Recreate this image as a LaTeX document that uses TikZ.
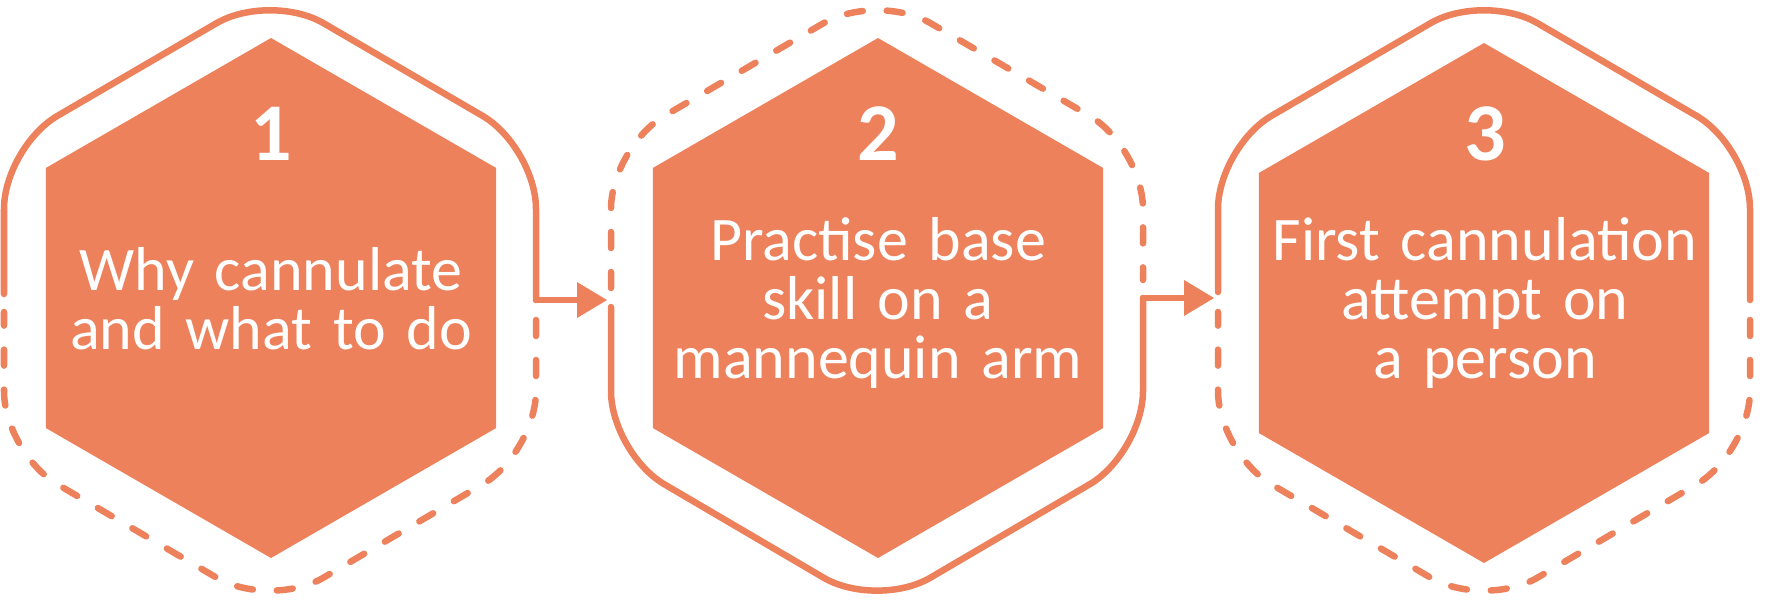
\documentclass[tikz,border=0pt]{standalone}
\usepackage{fontspec}
\setmainfont{Carlito}
\usetikzlibrary{arrows.meta}

\definecolor{hexorange}{RGB}{237,129,92}

\tikzset{
  hexfill/.style={fill=hexorange},
  rim/.style={draw=hexorange, line width=6.5pt, line cap=round, line join=round, rounded corners=62pt},
  rimdash/.style={rim, dash pattern=on 16pt off 24pt},
  link/.style={draw=hexorange, line width=6.5pt, line cap=round,
    -{Triangle[length=30pt, width=36pt, line width=0pt]}},
  stepnum/.style={text=white, font=\fontsize{82}{90}\selectfont\bfseries, anchor=base, inner sep=0pt},
  steptext/.style={text=white, font=\fontsize{62}{59.3}\selectfont,
    text width=460pt, align=center, anchor=base, inner sep=0pt}
}

\begin{document}
\begin{tikzpicture}[x=1pt, y=-1pt]
        \useasboundingbox (0,0) rectangle (1792,600);
        % Polovina sirine okvira
        \def\hw{266}

        % Ispunjeni sesterokuti
        \foreach \cx/\cy in {271/298, 878/298, 1484/303} {
            \fill[hexfill] (\cx,{\cy-260}) -- ({\cx+225.2},{\cy-130}) -- ({\cx+225.2},{\cy+130})
                -- (\cx,{\cy+260}) -- ({\cx-225.2},{\cy+130}) -- ({\cx-225.2},{\cy-130}) -- cycle;
        }

        % Okvir 1
        \draw[rim] ({270-\hw},294) -- ({270-\hw},147) -- (270,-8) -- ({270+\hw},147) -- ({270+\hw},300);
        \draw[rimdash] ({270+\hw},320) -- ({270+\hw},453) -- (270,609) -- ({270-\hw},453) -- ({270-\hw},312);

        % Okvir 2
        \draw[rimdash] ({877-\hw},288) -- ({877-\hw},147) -- (877,-8) -- ({877+\hw},147) -- ({877+\hw},280);
        \draw[rim] ({877-\hw},307) -- ({877-\hw},453) -- (877,609) -- ({877+\hw},453) -- ({877+\hw},298);

        % Okvir 3
        \draw[rim] ({1484-\hw},292) -- ({1484-\hw},147) -- (1484,-8) -- ({1484+\hw},147) -- ({1484+\hw},300);
        \draw[rimdash] ({1484+\hw},320) -- ({1484+\hw},453) -- (1484,609) -- ({1484-\hw},453) -- ({1484-\hw},312);

        % Strelice
        \coordinate (rim1) at ({270+\hw},300);
        \coordinate (tip2) at (607,300);
        \coordinate (rim2) at ({877+\hw},298);
        \coordinate (tip3) at (1214,298);
        \draw[link] (rim1) -- (tip2);
        \draw[link] (rim2) -- (tip3);

        % Brojevi koraka
        \node[stepnum] (num1) at (271,160) {1};
        \node[stepnum] (num2) at (878,160) {2};
        \node[stepnum] (num3) at (1485,160) {3};

        % Tekst koraka
        \node[steptext] (txt1) at (271,290) {Why cannulate\\and what to do};
        \node[steptext] (txt2) at (878,260) {Practise base\\skill on a\\mannequin arm};
        \node[steptext] (txt3) at (1485,260) {First cannulation\\attempt on\\a person};

    \end{tikzpicture}
\end{document}
